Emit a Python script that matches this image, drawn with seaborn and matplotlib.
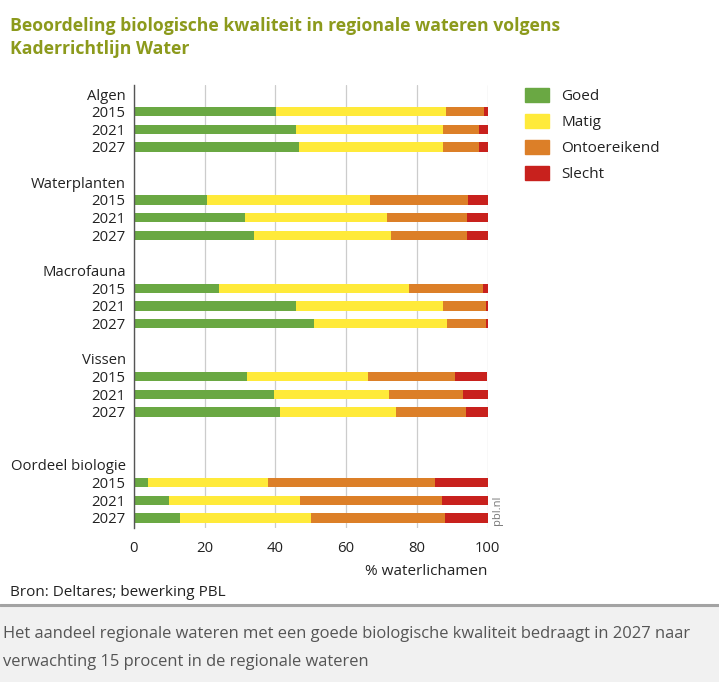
import pandas as pd
import matplotlib.pyplot as plt
import matplotlib.patches as mpatches
import seaborn as sns

# gegevens (% waterlichamen)
groepen = ['Algen', 'Waterplanten', 'Macrofauna', 'Vissen', 'Oordeel biologie']
jaren = ['2015', '2021', '2027']
klassen = ['Goed', 'Matig', 'Ontoereikend', 'Slecht']
kleuren = ['#6aa843', '#ffea3a', '#dc7f28', '#c8211d']

goed = [40.3, 45.9, 46.6, 20.6, 31.5, 33.9, 24.1, 45.7, 51.0, 32.0, 39.6, 41.2, 3.9, 10.0, 12.9]
matig = [48.1, 41.5, 40.8, 46.1, 40.2, 38.9, 53.6, 41.7, 37.6, 34.1, 32.4, 32.8, 34.1, 36.9, 37.1]
ontoereikend = [10.6, 10.2, 10.2, 27.7, 22.4, 21.3, 21.1, 12.1, 10.9, 24.8, 21.2, 19.8, 47.1, 40.2, 37.9]
slecht = [1.0, 2.4, 2.4, 5.6, 5.9, 5.9, 1.2, 0.5, 0.5, 9.1, 6.8, 6.2, 14.9, 12.9, 12.1]

# rij-indeling: groepsnaam, drie jaren, lege rij (twee voor het oordeel)
groep_start = [0, 5, 10, 15, 21]

rows = []
for g, naam in enumerate(groepen):
    for j, jaar in enumerate(jaren):
        i = g * 3 + j
        waarden = [goed[i], matig[i], ontoereikend[i], slecht[i]]
        cum = 0
        for k, klasse in enumerate(klassen):
            cum += waarden[k]
            rows.append({'pos': groep_start[g] + 1 + j, 'klasse': klasse, 'cum': cum})
df = pd.DataFrame(rows)

sns.set_style('white')
plt.rcParams['font.family'] = ['Open Sans', 'DejaVu Sans']

fig = plt.figure(figsize=(7.19, 6.82), dpi=100)
ax = fig.add_axes([134 / 719, 1 - 528 / 682, 353.5 / 719, 443 / 682])

# gestapelde balken: cumulatief, van achter naar voren
for klasse, kleur in reversed(list(zip(klassen, kleuren))):
    sns.barplot(data=df[df['klasse'] == klasse], x='cum', y='pos', orient='y',
                native_scale=True, color=kleur, saturation=1, errorbar=None,
                width=0.52, linewidth=0, ax=ax)

ticks, labels = [], []
for g, naam in enumerate(groepen):
    ticks.append(groep_start[g])
    labels.append(naam)
    for j, jaar in enumerate(jaren):
        ticks.append(groep_start[g] + 1 + j)
        labels.append(jaar)
ax.set_yticks(ticks, labels)
ax.set_ylim(24.57, -0.51)
ax.set_xlim(0, 100)
ax.set_xticks([0, 20, 40, 60, 80, 100])
ax.tick_params(axis='both', length=0, labelsize=10.7, colors='#222222')
ax.tick_params(axis='y', pad=6)
ax.tick_params(axis='x', pad=9)
ax.set_ylabel('')
ax.set_xlabel('% waterlichamen', fontsize=11, color='#222222', loc='right', labelpad=6)

ax.grid(axis='x', color='#cccccc', linewidth=0.9)
ax.set_axisbelow(True)
for s in ['top', 'right', 'bottom']:
    ax.spines[s].set_visible(False)
ax.spines['left'].set_color('#555555')
ax.spines['left'].set_linewidth(1)

# legenda
handles = [mpatches.Patch(color=c, label=l) for c, l in zip(kleuren, klassen)]
fig.legend(handles=handles, loc='upper left', bbox_to_anchor=(511 / 719, 1 - 74 / 682),
           frameon=False, fontsize=11, handlelength=1.6, handleheight=1.1,
           labelspacing=0.62, handletextpad=0.8, labelcolor='#222222')

# titel en teksten
fig.text(10 / 719, 1 - 17 / 682, 'Beoordeling biologische kwaliteit in regionale wateren volgens\nKaderrichtlijn Water',
         ha='left', va='top', fontsize=12.7, fontweight='bold', color='#8c9a1c', linespacing=1.35)
fig.text(497 / 719, 1 - 510 / 682, 'pbl.nl', rotation=90, ha='center', va='center',
         fontsize=8, color='#777777')
fig.text(10 / 719, 1 - 592 / 682, 'Bron: Deltares; bewerking PBL', ha='left', va='center',
         fontsize=11, color='#222222')

# onderschrift op grijze band
fig.patches.append(mpatches.Rectangle((0, 0), 1, 1 - 606 / 682, transform=fig.transFigure,
                                      facecolor='#f1f1f1', edgecolor='none', zorder=0))
fig.lines.append(plt.Line2D([0, 1], [1 - 605 / 682] * 2, transform=fig.transFigure,
                            color='#a3a3a3', linewidth=2.2))
fig.text(3 / 719, 1 - 634 / 682,
         'Het aandeel regionale wateren met een goede biologische kwaliteit bedraagt in 2027 naar',
         ha='left', va='center', fontsize=11.9, color='#555555')
fig.text(3 / 719, 1 - 662 / 682, 'verwachting 15 procent in de regionale wateren',
         ha='left', va='center', fontsize=11.9, color='#555555')

fig.savefig('out.png', dpi=100)
